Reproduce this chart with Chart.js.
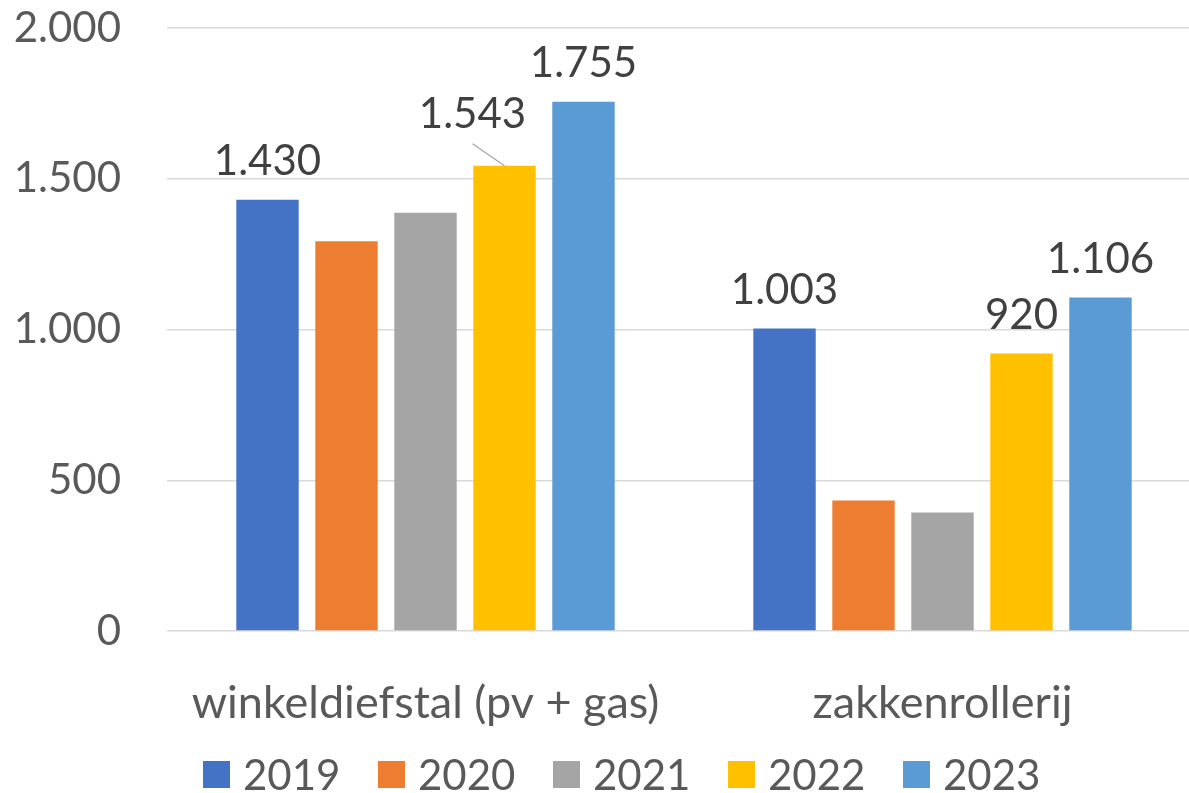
<!DOCTYPE html>
<html>
<head>
<meta charset="utf-8">
<script src="https://cdn.jsdelivr.net/npm/chart.js@4.4.1/dist/chart.umd.min.js"></script>
<style>
  html, body { margin: 0; padding: 0; overflow: hidden; background: #fff; }
  #wrap { position: relative; width: 1201px; height: 793px; }
  #legend { position: absolute; left: 203px; top: 752px; display: flex; font-family: Lato, sans-serif; font-size: 42px; color: #595959; }
  .item { width: 175px; display: flex; align-items: center; height: 44px; }
  .sw { width: 27px; height: 27px; margin-right: 13px; flex: none; }
</style>
</head>
<body>
<div id="wrap">
  <canvas id="c" width="1201" height="793"></canvas>
  <div id="legend"></div>
</div>
<script>
const categories = ['winkeldiefstal (pv + gas)', 'zakkenrollerij'];
const years = ['2019', '2020', '2021', '2022', '2023'];
const values2019 = [1430, 1003];
const values2020 = [1293, 433];
const values2021 = [1387, 393];
const values2022 = [1543, 920];
const values2023 = [1755, 1106];
const labelledYears = ['2019', '2022', '2023'];
const colors = ['#4472C4', '#ED7D31', '#A5A5A5', '#FFC000', '#5B9BD5'];
const seriesValues = [values2019, values2020, values2021, values2022, values2023];

const FONT = 'Lato';
function fmt(v) { return String(Math.round(v)).replace(/\B(?=(\d{3})+(?!\d))/g, '.'); }

const labelPlugin = {
  id: 'barLabels',
  afterDatasetsDraw(chart, args, opts) {
    const ctx = chart.ctx;
    ctx.save();
    ctx.font = `${opts.size}px ${FONT}`;
    ctx.fillStyle = '#404040';
    ctx.textAlign = 'center';
    ctx.textBaseline = 'alphabetic';
    chart.data.datasets.forEach((ds, i) => {
      if (!labelledYears.includes(ds.label)) return;
      const meta = chart.getDatasetMeta(i);
      meta.data.forEach((bar, j) => {
        let x = bar.x, y = bar.y - opts.gap;
        const mv = opts.moved.find(m => m.dataset === i && m.index === j);
        if (mv) {
          x += mv.dx; y += mv.dy;
          ctx.save();
          ctx.strokeStyle = '#A6A6A6';
          ctx.lineWidth = 1.3;
          ctx.beginPath();
          ctx.moveTo(x, y + 16);
          ctx.lineTo(bar.x, bar.y);
          ctx.stroke();
          ctx.restore();
        }
        ctx.fillText(fmt(ds.data[j]), x, y);
      });
    });
    ctx.restore();
  }
};

const chart = new Chart(document.getElementById('c'), {
  type: 'bar',
  data: {
    labels: categories,
    datasets: years.map((y, i) => ({
      label: y,
      data: seriesValues[i],
      backgroundColor: colors[i],
      borderWidth: 0,
      categoryPercentage: 0.764,
      barPercentage: 0.79
    }))
  },
  options: {
    responsive: false,
    animation: false,
    layout: { padding: { top: 28, right: 0, bottom: 0, left: 0 } },
    plugins: {
      legend: { display: false },
      tooltip: { enabled: false },
      barLabels: { size: 42, gap: 25, moved: [{ dataset: 3, index: 0, dx: -32, dy: -13 }] }
    },
    scales: {
      x: {
        grid: { display: false, drawTicks: false },
        border: { display: false },
        ticks: { color: '#595959', font: { family: FONT, size: 45 }, padding: 45, maxRotation: 0 },
        afterFit(s) { s.height = 162; s.paddingLeft = 0; s.paddingRight = 0; }
      },
      y: {
        min: 0, max: 2000,
        grid: { color: '#D9D9D9', lineWidth: 1.5, drawTicks: false },
        border: { display: false },
        ticks: { stepSize: 500, color: '#595959', font: { family: FONT, size: 42 }, padding: 46, callback: v => fmt(v) },
        afterFit(s) { s.width = 167; s.paddingTop = 0; s.paddingBottom = 0; }
      }
    }
  },
  plugins: [labelPlugin]
});

const legend = document.getElementById('legend');
years.forEach((y, i) => {
  const it = document.createElement('div');
  it.className = 'item';
  const sw = document.createElement('span');
  sw.className = 'sw';
  sw.style.background = colors[i];
  const t = document.createElement('span');
  t.textContent = y;
  it.appendChild(sw); it.appendChild(t);
  legend.appendChild(it);
});
</script>
</body>
</html>
